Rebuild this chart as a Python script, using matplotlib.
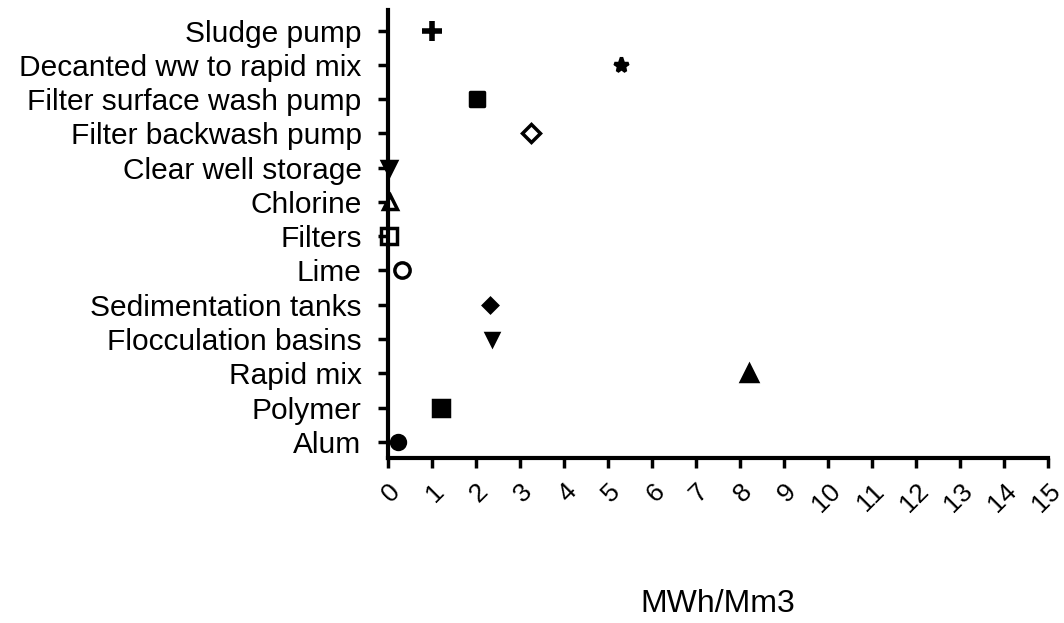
import matplotlib
matplotlib.use("Agg")
import matplotlib.pyplot as plt
from matplotlib.markers import MarkerStyle

plt.rcParams['font.family'] = ['Liberation Sans', 'DejaVu Sans']

categories = ["Alum", "Polymer", "Rapid mix", "Flocculation basins", "Sedimentation tanks",
              "Lime", "Filters", "Chlorine", "Clear well storage", "Filter backwash pump",
              "Filter surface wash pump", "Decanted ww to rapid mix", "Sludge pump"]
values = [0.22, 1.21, 8.2, 2.36, 2.31, 0.31, 0.03, 0.05, 0.03, 3.26, 2.02, 5.3, 1.0]
markers = ['o', 's', '^', 'v', 'D', 'o', 's', '^', 'v', 'D', 's', '*', '+']
filled = [True, True, True, True, True, False, False, False, True, False, True, True, True]
sizes = [10, 11, 11, 9, 7, 11, 11, 10, 10, 9, 10.5, 11, 14]

fig = plt.figure(figsize=(10.64, 6.23), dpi=100)
ax = fig.add_axes([0.3647, 0.2649, 0.6203, 0.7191])

for i, (v, m, f, s) in enumerate(zip(values, markers, filled, sizes)):
    ms = MarkerStyle(m, joinstyle='round') if m == 's' and i == 10 else m
    ax.plot([v], [i], marker=ms, markersize=s, color='black',
            markerfacecolor='black' if f else 'none',
            markeredgewidth=4 if m == '+' else 2.5,
            linestyle='none', clip_on=False, zorder=3)

ax.set_xlim(0, 15)
ax.set_ylim(-0.47, 12.6)
ax.set_xticks(range(16))
ax.set_xticklabels([str(i) for i in range(16)], rotation=45, ha='right', va='top',
                   rotation_mode='anchor', fontsize=19)
ax.set_yticks(range(len(categories)))
ax.set_yticklabels(categories, fontsize=21.5)
for s in ['top', 'right']:
    ax.spines[s].set_visible(False)
for s in ['left', 'bottom']:
    ax.spines[s].set_linewidth(3)
ax.tick_params(axis='both', width=2.5, length=7, direction='out')
ax.tick_params(axis='y', pad=12)
ax.tick_params(axis='x', pad=8)
ax.set_xlabel("MWh/Mm3", fontsize=23, labelpad=52)

fig.savefig("out.png", dpi=100)
